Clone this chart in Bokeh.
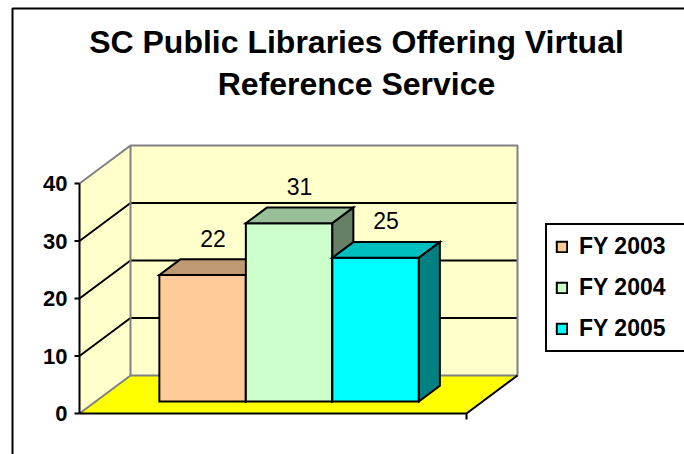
from bokeh.plotting import figure
from bokeh.models import Range1d, ColumnDataSource, Legend, LegendItem, Label, BoxAnnotation
from bokeh.core.properties import value
from bokeh.embed import file_html
from bokeh.resources import INLINE

# ---------------- data ----------------
title_lines = ["SC Public Libraries Offering Virtual", "Reference Service"]
categories = ["FY 2003", "FY 2004", "FY 2005"]
counts = [22, 31, 25]
y_ticks = [0, 10, 20, 30, 40]
front_colors = ["#FFCC99", "#CCFFCC", "#00FFFF"]
top_colors = ["#BF9973", "#99BF99", "#00BFBF"]
side_colors = ["#806650", "#668066", "#008080"]

# ---------------- layout constants ----------------
FONT = "Liberation Sans"
W, H = 684, 454
PXU = 5.75           # screen pixels per value unit
Y0 = 41              # px from canvas bottom to the front floor edge
AX = 79              # x of the front value axis (px)
FLOOR_W = 387        # front floor width (px)
DX = 51              # depth offset x (px)
DY = 38 / PXU        # depth offset y (value units)
F0 = 12 / 38         # depth fraction of bar front plane
FD = 21 / 51         # depth fraction of bar thickness
GAP = 63.75          # gap at both sides of bar group (px)
BW = 86.5            # bar width (px)
y_max = max(y_ticks)

p = figure(width=W, height=H, output_backend="svg", toolbar_location=None,
           x_range=Range1d(0, W), y_range=Range1d(-Y0 / PXU, (H - Y0) / PXU),
           x_axis_location=None, y_axis_location=None,
           min_border_left=0, min_border_right=0, min_border_top=0, min_border_bottom=0)
p.xgrid.visible = False
p.ygrid.visible = False
p.outline_line_color = None
p.background_fill_color = "white"
p.border_fill_color = "white"

# ---------------- walls & floor ----------------
wall_xs = [[AX + DX, AX + DX + FLOOR_W, AX + DX + FLOOR_W, AX + DX], [AX, AX + DX, AX + DX, AX]]
wall_ys = [[DY, DY, DY + y_max, DY + y_max], [0, DY, DY + y_max, y_max]]
p.patches(wall_xs, wall_ys, fill_color="#FFFFCC", line_color=None)
p.patch([AX, AX + FLOOR_W, AX + FLOOR_W + DX, AX + DX], [0, 0, DY, DY],
        fill_color="#FFFF00", line_color=None)

# gridlines (side wall diagonal + back wall)
g_xs, g_ys = [], []
for t in y_ticks[1:-1]:
    g_xs.append([AX, AX + DX, AX + DX + FLOOR_W])
    g_ys.append([t, t + DY, t + DY])
p.multi_line(g_xs, g_ys, line_color="black", line_width=2)

# gray wall edges
e_xs = [[AX, AX + DX, AX + DX + FLOOR_W, AX + DX + FLOOR_W, AX + DX, AX + DX],
        [AX, AX + DX]]
e_ys = [[y_max, y_max + DY, y_max + DY, DY, DY, y_max + DY],
        [0, DY]]
p.multi_line(e_xs, e_ys, line_color="#808080", line_width=2)

# floor front edges (black) + category-axis end tick
p.multi_line([[AX, AX + FLOOR_W, AX + FLOOR_W + DX], [AX + FLOOR_W, AX + FLOOR_W]],
             [[0, 0, DY], [0, -6 / PXU]], line_color="black", line_width=2)

# front value axis: line, ticks, labels
p.line([AX, AX], [0, y_max], line_color="black", line_width=2)
p.segment(x0=AX - 5, x1=AX, y0=y_ticks, y1=y_ticks, line_color="black", line_width=2)
p.text(x=[AX - 12] * len(y_ticks), y=y_ticks, text=[str(t) for t in y_ticks],
       text_align="right", text_baseline="middle", text_font=value(FONT),
       text_font_size="22px", text_font_style="bold", text_color="black")

# ---------------- bars ----------------
b_xs, b_ys, b_col = [], [], []
lab_x, lab_y = [], []
ddx, ddy = DX * FD, DY * FD
for i, v in enumerate(counts):
    x0 = AX + DX * F0 + GAP + i * BW
    x1 = x0 + BW
    y0 = DY * F0
    top = y0 + v
    b_xs += [[x0, x1, x1, x0],
             [x0, x1, x1 + ddx, x0 + ddx],
             [x1, x1 + ddx, x1 + ddx, x1]]
    b_ys += [[y0, y0, top, top],
             [top, top, top + ddy, top + ddy],
             [y0, y0 + ddy, top + ddy, top]]
    b_col += [front_colors[i], top_colors[i], side_colors[i]]
    lab_x.append((x0 + x1) / 2 + ddx / 2)
    lab_y.append(top + ddy / 2 + 29 / PXU)

bars = p.patches(xs="xs", ys="ys", fill_color="color", line_color="black", line_width=2,
                 line_join="miter",
                 source=ColumnDataSource(dict(xs=b_xs, ys=b_ys, color=b_col)))

p.text(x="x", y="y", text="t",
       source=ColumnDataSource(dict(x=lab_x, y=lab_y, t=[str(c) for c in counts])),
       text_align="center", text_baseline="middle", text_font=value(FONT),
       text_font_size="23px", text_color="black")

# ---------------- title ----------------
title_x = 356
title_y = [(H - Y0 - 41) / PXU, (H - Y0 - 83) / PXU]
for line, ty in zip(title_lines, title_y):
    p.add_layout(Label(x=title_x, y=ty, text=line, text_align="center", text_baseline="middle",
                       text_font=FONT, text_font_size="32px", text_font_style="bold",
                       text_color="black"))

# ---------------- legend ----------------
legend = Legend(items=[LegendItem(label=c, renderers=[bars], index=3 * i)
                       for i, c in enumerate(categories)],
                location=(545, 102), orientation="vertical",
                border_line_color="black", border_line_width=2, border_line_alpha=1.0,
                background_fill_color="white", background_fill_alpha=1.0,
                label_text_font=FONT, label_text_font_size="23px", label_text_font_style="bold",
                label_text_color="black",
                glyph_width=13, glyph_height=13, label_standoff=11, padding=8, spacing=14,
                label_height=26, label_width=99, margin=0)
p.add_layout(legend)

# ---------------- chart-area border ----------------
p.add_layout(BoxAnnotation(left=12, right=900, top=8, bottom=900,
                           left_units="canvas", right_units="canvas",
                           top_units="canvas", bottom_units="canvas",
                           fill_color=None, fill_alpha=0, line_color="black",
                           line_alpha=1.0, line_width=2))

open("out.html", "w").write(file_html(p, INLINE))
